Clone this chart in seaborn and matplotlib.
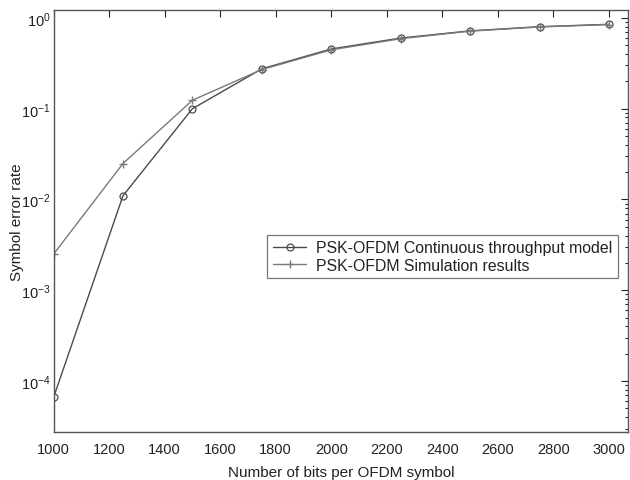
import numpy as np
import pandas as pd
import matplotlib
matplotlib.use("Agg")
import matplotlib.pyplot as plt
import seaborn as sns

# Bits per OFDM symbol
bits = [1000, 1250, 1500, 1750, 2000, 2250, 2500, 2750, 3000]
# Symbol error rate: analytical continuous-throughput model
ser_model = [6.6e-5, 0.0110, 0.100, 0.275, 0.455, 0.60, 0.72, 0.80, 0.85]
# Symbol error rate: simulation
ser_sim = [2.5e-3, 0.0249, 0.124, 0.270, 0.445, 0.59, 0.715, 0.795, 0.845]

label_model = "PSK-OFDM Continuous throughput model"
label_sim = "PSK-OFDM Simulation results"

df = pd.DataFrame({
    "bits": bits * 2,
    "ser": ser_model + ser_sim,
    "series": [label_model] * len(bits) + [label_sim] * len(bits),
})

sns.set_style("white")
plt.rcParams["font.family"] = ["Liberation Sans", "DejaVu Sans"]
plt.rcParams["mathtext.fontset"] = "custom"
plt.rcParams["mathtext.rm"] = "Liberation Sans"
plt.rcParams["mathtext.it"] = "Liberation Sans:italic"

fig = plt.figure(figsize=(6.30, 4.81), dpi=100)
ax = fig.add_axes([0.085, 0.0998, 0.9126, 0.8772])

dark = "#4a4a4a"
light = "#7a7a7a"
sns.lineplot(data=df[df.series == label_model], x="bits", y="ser", ax=ax,
             color=dark, linewidth=1.0, marker="o", markersize=5,
             markerfacecolor="none", markeredgecolor=dark,
             markeredgewidth=0.9, label=label_model)
sns.lineplot(data=df[df.series == label_sim], x="bits", y="ser", ax=ax,
             color=light, linewidth=1.0, marker="+", markersize=6,
             markeredgecolor=light, markeredgewidth=1.0, label=label_sim)

ax.set_yscale("log")
ax.set_xlim(1000, 3070)
ax.set_ylim(2.75e-5, 1.22)
ax.set_xticks(np.arange(1000, 3001, 200))
ax.set_yticks([1e-4, 1e-3, 1e-2, 1e-1, 1e0])

ax.tick_params(which="both", direction="in", top=True, right=True,
               labelsize=10.5, colors="#222222", width=0.8)
ax.tick_params(which="major", length=5)
ax.tick_params(which="minor", length=2.5)
ax.tick_params(axis="x", which="both", pad=7)
ax.tick_params(axis="y", which="both", pad=2)
ax.tick_params(axis="x", which="minor", bottom=False, top=False)
for s in ax.spines.values():
    s.set_color("#555555")
    s.set_linewidth(1.0)

ax.set_xlabel("Number of bits per OFDM symbol", fontsize=11, color="#222222", labelpad=7)
ax.set_ylabel("Symbol error rate", fontsize=11, color="#222222")
ax.yaxis.set_label_coords(-0.052, 0.5)

leg = ax.legend(loc="upper left", bbox_to_anchor=(0.372, 0.467), fontsize=11.4,
                frameon=True, fancybox=False, edgecolor="#555555",
                handlelength=2.1, borderpad=0.35, labelspacing=0.15,
                handletextpad=0.6, borderaxespad=0)
leg.get_frame().set_linewidth(0.9)
for t in leg.get_texts():
    t.set_color("#222222")

fig.savefig("out.png", dpi=100)
